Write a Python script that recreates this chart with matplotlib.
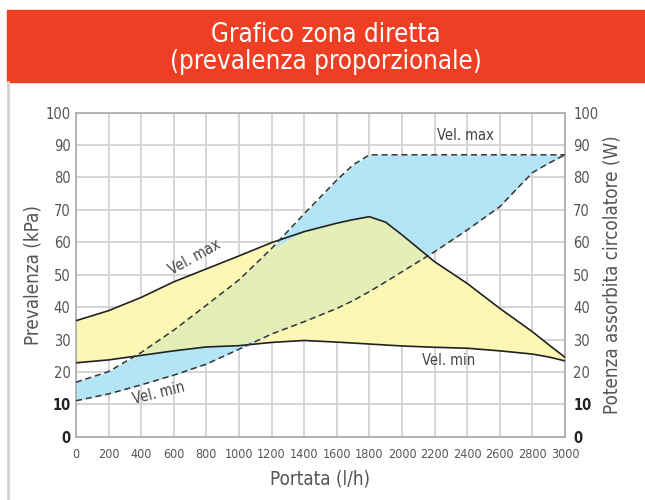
import matplotlib
matplotlib.use("Agg")
import matplotlib.pyplot as plt
from matplotlib.patches import Rectangle
from matplotlib.lines import Line2D
import numpy as np

plt.rcParams['font.family'] = ['DejaVu Sans']
plt.rcParams['font.stretch'] = 'condensed'

# portata (l/h)
portata = [0, 200, 400, 600, 800, 1000, 1200, 1400, 1600, 1700, 1800, 1900,
           2000, 2200, 2400, 2600, 2800, 2900, 3000]
# prevalenza (kPa), velocita max / min
prev_max = [35.8, 38.9, 43.0, 47.8, 51.8, 55.8, 59.9, 63.3, 65.9, 67.0, 67.9, 66.2,
            62.3, 54.0, 47.3, 39.6, 32.4, 28.4, 24.5]
prev_min = [22.8, 23.7, 25.1, 26.5, 27.7, 28.1, 29.1, 29.7, 29.2, 28.9, 28.6, 28.3,
            28.0, 27.6, 27.3, 26.5, 25.5, 24.6, 23.4]
# potenza assorbita (W), velocita max / min
pot_max = [16.8, 20.1, 26.0, 32.9, 40.6, 48.4, 58.1, 68.8, 79.2, 83.9, 87.0, 87.0,
           87.0, 87.0, 87.0, 87.0, 87.0, 87.0, 87.0]
pot_min = [11.1, 13.2, 16.0, 19.0, 22.4, 27.0, 31.7, 35.5, 39.6, 42.0, 44.8, 47.8,
           50.9, 57.1, 63.8, 71.0, 81.5, 84.4, 87.0]

x_ticks = list(range(0, 3001, 200))
y_ticks = list(range(0, 101, 10))

RED = '#ee3f24'
YELLOW = '#fdf7b6'
BLUE = '#b4e5f6'
GREEN = '#e3efb6'
TXT = '#555555'

fig = plt.figure(figsize=(6.45, 5), dpi=100)

# header band + frame line
fig.patches.append(Rectangle((7 / 645, 1 - 82 / 500), 1, 72 / 500,
                             transform=fig.transFigure, color=RED, zorder=0))
fig.lines.append(Line2D([7.5 / 645, 7.5 / 645], [0, 1 - 82 / 500],
                        transform=fig.transFigure, color='#d0d0d0', lw=2))
fig.text(326 / 645, 1 - 35 / 500, 'Grafico zona diretta', ha='center', va='center',
         color='white', fontsize=18.5)
fig.text(326 / 645, 1 - 62 / 500, '(prevalenza proporzionale)', ha='center', va='center',
         color='white', fontsize=18.5)

ax = fig.add_axes([76 / 645, 1 - 436.7 / 500, (565 - 76) / 645, (436.7 - 112.7) / 500])

x = np.array(portata)
hmax, hmin = np.array(prev_max), np.array(prev_min)
pmax, pmin = np.array(pot_max), np.array(pot_min)

ax.fill_between(x, hmin, hmax, color=YELLOW, lw=0, zorder=1)
ax.fill_between(x, pmin, pmax, color=BLUE, lw=0, zorder=1)
lo = np.maximum(hmin, pmin)
hi = np.minimum(hmax, pmax)
ax.fill_between(x, lo, hi, where=hi > lo, interpolate=True, color=GREEN, lw=0, zorder=2)

ax.plot(x, hmax, color='#222222', lw=1.2, zorder=4)
ax.plot(x, hmin, color='#222222', lw=1.2, zorder=4)
ax.plot(x, pmax, color='#333333', lw=1.1, ls=(0, (4, 2.5)), zorder=4)
ax.plot(x, pmin, color='#333333', lw=1.1, ls=(0, (4, 2.5)), zorder=4)

ax.text(730, 55.5, 'Vel. max', rotation=29, ha='center', va='center', color='#444444',
        fontsize=10.5, zorder=5)
ax.text(505, 13.5, 'Vel. min', rotation=14, ha='center', va='center', color='#444444',
        fontsize=10.5, zorder=5)
ax.text(2390, 93, 'Vel. max', ha='center', va='center', color='#444444', fontsize=10.5, zorder=5)
ax.text(2285, 23.5, 'Vel. min', ha='center', va='center', color='#444444', fontsize=10.5, zorder=5)

ax.set_xlim(0, 3000)
ax.set_ylim(0, 100)
ax.set_xticks(x_ticks)
ax.set_yticks(y_ticks)
ax.grid(True, color='#d2d2d2', lw=1.3, zorder=0)
ax.set_axisbelow(True)
for s in ax.spines.values():
    s.set_color('#aaaaaa')
    s.set_linewidth(1.2)

ax.tick_params(axis='x', length=0, pad=8, labelsize=9, labelcolor=TXT)
ax.tick_params(axis='y', length=0, pad=4, labelsize=10.5, labelcolor=TXT)

ax2 = ax.twinx()
ax2.set_ylim(0, 100)
ax2.set_yticks(y_ticks)
ax2.tick_params(axis='y', length=0, pad=6, labelsize=10.5, labelcolor=TXT)
for s in ax2.spines.values():
    s.set_visible(False)

for a in (ax, ax2):
    for lab in a.get_yticklabels():
        if lab.get_text() in ('0', '10'):
            lab.set_fontweight('bold')
            lab.set_color('#222222')

ax.set_xlabel('Portata (l/h)', fontsize=13.5, color=TXT, labelpad=6)
ax.set_ylabel('Prevalenza (kPa)', fontsize=13.5, color=TXT, labelpad=2)
ax2.set_ylabel('Potenza assorbita circolatore (W)', fontsize=13.5, color=TXT, labelpad=3)

fig.savefig('out.png', dpi=100, facecolor='white')
